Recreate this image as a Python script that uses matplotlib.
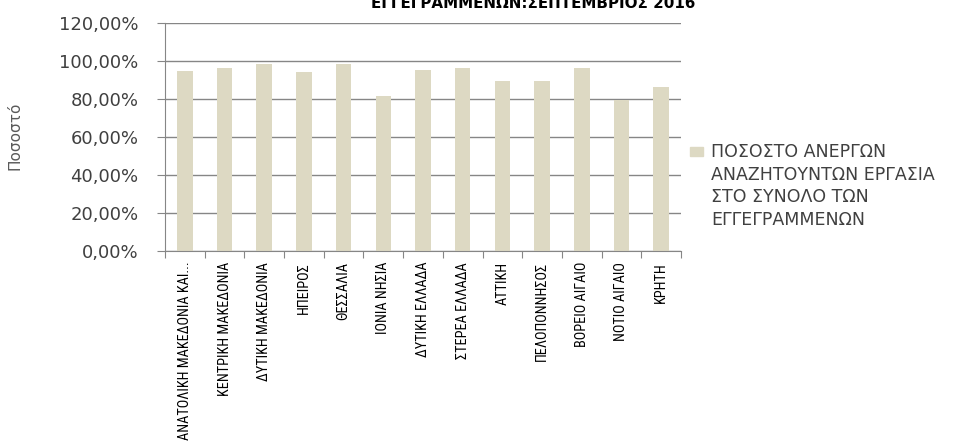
import numpy as np
import matplotlib
matplotlib.use("Agg")
import matplotlib.pyplot as plt
from matplotlib.patches import Rectangle
from matplotlib.ticker import FuncFormatter

# Δεδομένα
regions = ["ΑΝΑΤΟΛΙΚΗ ΜΑΚΕΔΟΝΙΑ ΚΑΙ...", "ΚΕΝΤΡΙΚΗ ΜΑΚΕΔΟΝΙΑ", "ΔΥΤΙΚΗ ΜΑΚΕΔΟΝΙΑ",
           "ΗΠΕΙΡΟΣ", "ΘΕΣΣΑΛΙΑ", "ΙΟΝΙΑ ΝΗΣΙΑ", "ΔΥΤΙΚΗ ΕΛΛΑΔΑ", "ΣΤΕΡΕΑ ΕΛΛΑΔΑ",
           "ΑΤΤΙΚΗ", "ΠΕΛΟΠΟΝΝΗΣΟΣ", "ΒΟΡΕΙΟ ΑΙΓΑΙΟ", "ΝΟΤΙΟ ΑΙΓΑΙΟ", "ΚΡΗΤΗ"]
values = [0.947, 0.962, 0.985, 0.943, 0.980, 0.816, 0.952, 0.961,
          0.891, 0.891, 0.964, 0.791, 0.863]
y_ticks = [0.0, 0.2, 0.4, 0.6, 0.8, 1.0, 1.2]

title_txt = "ΕΓΓΕΓΡΑΜΜΕΝΩΝ:ΣΕΠΤΕΜΒΡΙΟΣ 2016"
series_name = "ΠΟΣΟΣΤΟ ΑΝΕΡΓΩΝ\nΑΝΑΖΗΤΟΥΝΤΩΝ ΕΡΓΑΣΙΑ\nΣΤΟ ΣΥΝΟΛΟ ΤΩΝ\nΕΓΓΕΓΡΑΜΜΕΝΩΝ"
y_title = "Ποσοστό"

bar_color = "#DDD9C3"
grid_color = "#868686"
text_color = "#404040"

W, H = 980, 444
fig = plt.figure(figsize=(W / 100, H / 100), dpi=100)
# axes σε pixels: x 165-681, y 22.7-250.7
ax = fig.add_axes([165 / W, 1 - 250.7 / H, (681 - 165) / W, (250.7 - 22.7) / H])

x = np.arange(len(regions))
ax.bar(x, values, width=0.39, color=bar_color, zorder=2)

ax.set_xlim(-0.5, len(regions) - 0.5)
ax.set_ylim(0, 1.2)
ax.set_yticks(y_ticks)
ax.yaxis.set_major_formatter(FuncFormatter(lambda v, p: f"{v * 100:.2f}%".replace(".", ",")))
ax.yaxis.grid(True, color=grid_color, linewidth=1, zorder=0)
ax.set_axisbelow(True)

# ticks στα όρια των κατηγοριών, ετικέτες στο κέντρο
ax.set_xticks(np.arange(-0.5, len(regions), 1))
ax.set_xticklabels([])
ax.set_xticks(x, minor=True)
ax.set_xticklabels(regions, minor=True, rotation=90, va="top", ha="center",
                   family=["Roboto Condensed", "DejaVu Sans"], fontsize=10.3, color="#000000")
ax.tick_params(axis="x", which="major", length=5, color=grid_color, direction="out")
ax.tick_params(axis="x", which="minor", length=0, pad=8)
ax.tick_params(axis="y", length=6, color=grid_color, pad=13, labelsize=13, labelcolor=text_color)

for s in ["top", "right"]:
    ax.spines[s].set_visible(False)
for s in ["left", "bottom"]:
    ax.spines[s].set_color(grid_color)

fig.text(15 / W, 1 - 136 / H, y_title, rotation=90, ha="center", va="center",
         fontsize=11, color="#595959")

fig.text(533 / W, 1 - 7.5 / H, title_txt, ha="center", va="baseline",
         fontsize=10.9, fontweight="bold", color="#000000")

# υπόμνημα
fig.add_artist(Rectangle((690 / W, 1 - 156 / H), 13 / W, 9 / H,
                         transform=fig.transFigure, color=bar_color))
fig.text(711 / W, 1 - 143 / H, series_name, ha="left", va="top",
         fontsize=12.5, color=text_color, linespacing=1.33)

fig.savefig("out.png", dpi=100)
